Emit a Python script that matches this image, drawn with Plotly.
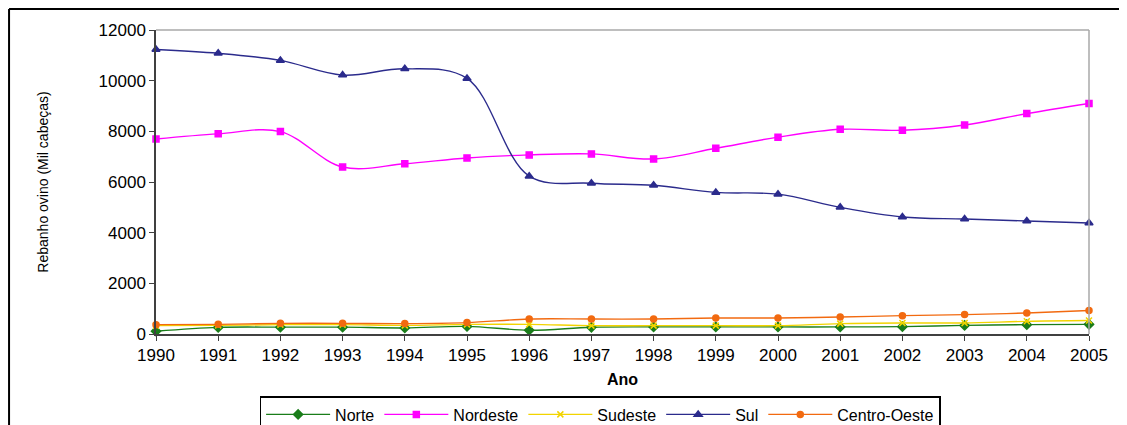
import plotly.graph_objects as go

anos = list(range(1990, 2006))

norte = [110, 260, 270, 270, 240, 300, 150, 265, 280, 280, 280, 280, 290, 340, 370, 380]
nordeste = [7700, 7900, 7990, 6590, 6720, 6950, 7070, 7110, 6910, 7330, 7770, 8080, 8040, 8250, 8700, 9100]
sudeste = [330, 340, 370, 370, 340, 380, 380, 330, 330, 330, 330, 410, 435, 435, 500, 530]
sul = [11230, 11080, 10800, 10220, 10470, 10090, 6230, 5950, 5870, 5590, 5520, 5000, 4620, 4540, 4460, 4380]
centro_oeste = [370, 380, 420, 420, 410, 450, 590, 590, 590, 630, 630, 670, 725, 765, 830, 925]

series = [
    ("Norte", norte, "#1a7d1a", "diamond", 7),
    ("Nordeste", nordeste, "#ff00ff", "square", 6),
    ("Sudeste", sudeste, "#f2d400", "x-thin-open", 6),
    ("Sul", sul, "#2b2b8c", "triangle-up", 7),
    ("Centro-Oeste", centro_oeste, "#f26a10", "circle", 6),
]

fig = go.Figure()
for name, vals, color, sym, size in series:
    fig.add_trace(go.Scatter(
        x=anos, y=vals, name=name, mode="lines+markers",
        line=dict(color=color, width=1.4, shape="spline", smoothing=1.0),
        marker=dict(symbol=sym, size=size, color=color, line=dict(color=color, width=1.5)),
        cliponaxis=False,
    ))

font_main = "Liberation Sans, Arial, sans-serif"

# page body has an 8px margin, so the figure is sized to fit the window
W, H = 1119, 417

fig.update_layout(
    width=W, height=H,
    margin=dict(l=148, r=38, t=22, b=91, autoexpand=False),
    paper_bgcolor="white", plot_bgcolor="white",
    font=dict(family=font_main, size=17, color="black"),
    showlegend=True,
    legend=dict(
        orientation="h", x=0.476, xanchor="center", y=29 / H, yanchor="top",
        yref="container",
        bordercolor="black", borderwidth=1.5, bgcolor="white",
        font=dict(size=16), itemwidth=64, tracegroupgap=0,
    ),
    xaxis=dict(
        range=[1990, 2005], tickvals=anos, ticktext=[str(a) for a in anos],
        automargin=False,
        showgrid=False, zeroline=False, showline=True, linecolor="#404040", linewidth=1.5,
        ticks="outside", ticklen=5, tickcolor="#404040",
        title=dict(text="<b>Ano</b>", font=dict(size=16), standoff=10),
    ),
    yaxis=dict(
        range=[0, 12000], dtick=2000, tickformat="d",
        automargin=False,
        showgrid=False, zeroline=False, showline=True, linecolor="#404040", linewidth=1.5,
        ticks="outside", ticklen=5, tickcolor="#404040",
        title=dict(text="Rebanho ovino (Mil cabeças)", font=dict(size=14), standoff=47),
    ),
    shapes=[
        dict(type="line", xref="paper", yref="paper", x0=0, x1=1, y0=1, y1=1,
             line=dict(color="#a8a8a8", width=1.5)),
        dict(type="line", xref="paper", yref="paper", x0=1, x1=1, y0=0, y1=1,
             line=dict(color="#a8a8a8", width=1.5)),
        dict(type="line", xref="paper", yref="paper", x0=-0.1575, x1=1.05, y0=1.069, y1=1.069,
             line=dict(color="black", width=2)),
        dict(type="line", xref="paper", yref="paper", x0=-0.1575, x1=-0.1575, y0=1.069, y1=-0.32,
             line=dict(color="black", width=2)),
    ],
)

fig.write_html("out.html")
